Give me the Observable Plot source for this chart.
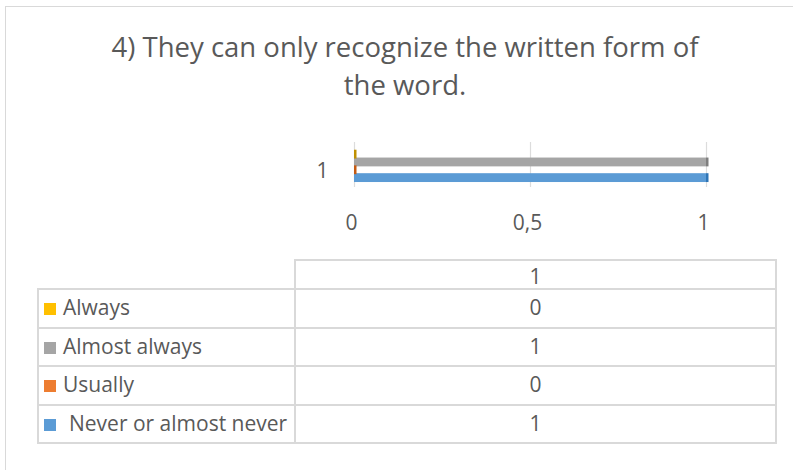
<!DOCTYPE html>
<html>
<head>
<meta charset="utf-8">
<script src="https://cdn.jsdelivr.net/npm/d3@7"></script>
<script src="https://cdn.jsdelivr.net/npm/@observablehq/plot@0.6"></script>
<style>
  html, body { margin: 0; padding: 0; background: #fff; }
  #wrap { position: relative; width: 793px; height: 470px; overflow: hidden; background: #fff; font-family: "Open Sans", sans-serif; color: #595959; }
  #frame { position: absolute; left: 5px; top: 6px; width: 820px; height: 480px; border-left: 1px solid #d9d9d9; border-top: 1px solid #d9d9d9; }
  #title { position: absolute; left: 0; width: 810px; top: 28px; text-align: center; font-size: 27.5px; line-height: 38px; color: #595959; }
  #chart { position: absolute; left: 0; top: 0; }
  #tbl { position: absolute; left: 37px; top: 259px; border-collapse: collapse; font-size: 21px; line-height: 24px; color: #595959; }
  #tbl td { border: 2px solid #d9d9d9; padding: 2px 0 4px 0; height: 30.5px; box-sizing: content-box; }
  #tbl td.lab { width: 255px; white-space: nowrap; }
  #tbl td.val { width: 479px; text-align: center; }
  #tbl tr.head td { height: 25px; padding: 2px 0 0 0; }
  #tbl tr.head td.empty { border: none; border-bottom: 2px solid #d9d9d9; }
  .sw { display: inline-block; width: 12px; height: 12px; margin: 0 7px 0 5px; vertical-align: 0px; }
</style>
</head>
<body>
<div id="wrap">
  <div id="frame"></div>
  <div id="title"></div>
  <div id="chart"></div>
  <table id="tbl"></table>
</div>
<script>
const titleLines = ["4) They can only recognize the written form of", "the word."];
const categories = ["1"];
const series = ["Always", "Almost always", "Usually", "Never or almost never"];
const values = [0, 1, 0, 1];
const colors = ["#FFC000", "#A5A5A5", "#ED7D31", "#5B9BD5"];
const edgeColors = ["#BF9000", "#7F7F7F", "#C55A11", "#2E75B6"];
const xTicks = [0, 0.5, 1];

document.getElementById("title").innerHTML = titleLines.join("<br>");

const rows = series.map((s, i) => ({category: categories[0], series: s, value: values[i]}));
const fmt = d => String(d).replace(".", ",");

const chart = Plot.plot({
  width: 793,
  height: 250,
  marginLeft: 354,
  marginRight: 87,
  marginTop: 142,
  marginBottom: 63,
  style: {fontFamily: "Open Sans, sans-serif", color: "#595959", background: "transparent"},
  x: {domain: [0, 1], label: null},
  y: {domain: series, paddingInner: 0, paddingOuter: 0.875, align: 0.6, axis: null, round: false},
  fy: {domain: categories, padding: 0, label: null},
  color: {domain: series, range: colors},
  marks: [
    Plot.gridX(xTicks, {stroke: "#dcdcdc", strokeOpacity: 1, strokeWidth: 1.2}),
    Plot.barX(rows, {x: "value", y: "series", fy: "category", fill: "series", insetTop: -0.5, insetBottom: -0.5}),
    Plot.barX(rows, {x1: "value", x2: "value", y: "series", fy: "category", fill: d => edgeColors[series.indexOf(d.series)], insetTop: -0.5, insetBottom: -0.5, insetRight: -2.5}),
    Plot.axisX({ticks: xTicks, tickFormat: fmt, tickSize: 0, tickPadding: 28, fontSize: 21, dx: -3, label: null}),
    Plot.axisFy({anchor: "left", tickSize: 0, tickPadding: 26, fontSize: 21, dy: 6, label: null})
  ]
});
document.getElementById("chart").appendChild(chart);

const tbl = document.getElementById("tbl");
let html = `<tr class="head"><td class="lab empty"></td><td class="val">${categories[0]}</td></tr>`;
series.forEach((s, i) => {
  const extra = s.startsWith("Never") ? "margin-right:13px;" : "";
  html += `<tr><td class="lab"><span class="sw" style="background:${colors[i]};${extra}"></span>${s}</td><td class="val">${values[i]}</td></tr>`;
});
tbl.innerHTML = html;
</script>
</body>
</html>
